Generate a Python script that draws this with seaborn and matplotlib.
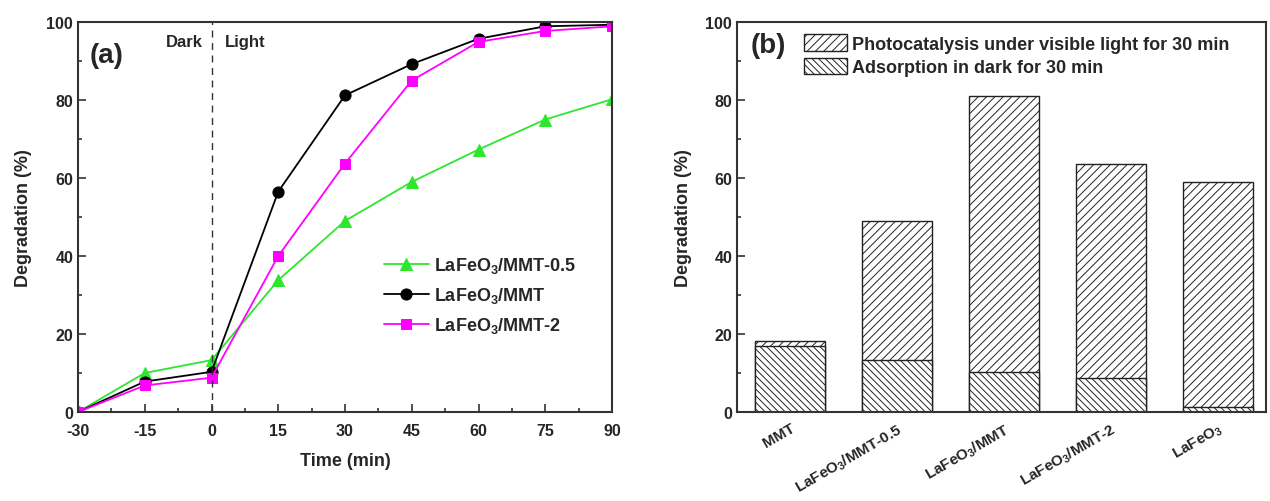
import matplotlib
matplotlib.use("Agg")
import matplotlib.pyplot as plt
import seaborn as sns
import pandas as pd
from matplotlib.patches import Patch
from matplotlib.ticker import MultipleLocator

# ---------------- data ----------------
time_min = [-30, -15, 0, 15, 30, 45, 60, 75, 90]
mmt05 = [0, 10.0, 13.3, 33.8, 49.0, 59.0, 67.3, 75.0, 80.2]
mmt1 = [0, 7.8, 10.3, 56.5, 81.2, 89.2, 95.7, 98.9, 99.3]
mmt2 = [0, 6.8, 8.8, 40.0, 63.7, 85.0, 94.9, 97.7, 98.9]
series_labels = ["LaFeO$_3$/MMT-0.5", "LaFeO$_3$/MMT", "LaFeO$_3$/MMT-2"]

bar_categories = ["MMT", "LaFeO$_3$/MMT-0.5", "LaFeO$_3$/MMT", "LaFeO$_3$/MMT-2", "LaFeO$_3$"]
dark_adsorption = [16.8, 13.3, 10.3, 8.8, 1.2]
total_degradation = [18.1, 48.9, 81.1, 63.6, 59.0]
legend_labels = ["Photocatalysis under visible light for 30 min", "Adsorption in dark for 30 min"]

# ---------------- style ----------------
sns.set_style("ticks")
plt.rcParams["font.family"] = ["Liberation Sans", "DejaVu Sans"]
plt.rcParams["font.weight"] = "bold"
plt.rcParams["axes.labelweight"] = "bold"
plt.rcParams["axes.unicode_minus"] = False
plt.rcParams["mathtext.fontset"] = "custom"
plt.rcParams["mathtext.rm"] = "Liberation Sans:bold"
plt.rcParams["mathtext.bf"] = "Liberation Sans:bold"
plt.rcParams["mathtext.it"] = "Liberation Sans:bold"
plt.rcParams["mathtext.default"] = "bf"
plt.rcParams["hatch.linewidth"] = 0.7
plt.rcParams["hatch.color"] = "#333333"

W, H = 1270, 502
fig = plt.figure(figsize=(W / 100, H / 100), dpi=100)
ax1 = fig.add_axes([78 / W, 1 - 413 / H, 534 / W, 390 / H])
ax2 = fig.add_axes([737 / W, 1 - 413 / H, 529 / W, 390 / H])

spine_col = "#333333"
for ax in (ax1, ax2):
    for s in ax.spines.values():
        s.set_visible(True)
        s.set_linewidth(1.5)
        s.set_color(spine_col)
    ax.tick_params(which="both", direction="in", color=spine_col, labelsize=11.5, width=1.2)
    ax.tick_params(which="major", length=6)
    ax.tick_params(which="minor", length=3)

# ---------------- panel (a) ----------------
df = pd.DataFrame({"time": time_min, "a": mmt05, "b": mmt1, "c": mmt2})
sns.lineplot(data=df, x="time", y="a", ax=ax1, color="#2ee62e", marker="^",
             markersize=8, markeredgecolor="#2ee62e", linewidth=1.3, label=series_labels[0])
sns.lineplot(data=df, x="time", y="b", ax=ax1, color="black", marker="o",
             markersize=8, markeredgecolor="black", linewidth=1.3, label=series_labels[1])
sns.lineplot(data=df, x="time", y="c", ax=ax1, color="#ff00ff", marker="s",
             markersize=7, markeredgecolor="#ff00ff", linewidth=1.3, label=series_labels[2])
ax1.axvline(0, color="#333333", linestyle=(0, (5, 4)), linewidth=1.0)
ax1.set_xlim(-30, 90)
ax1.set_ylim(0, 100)
ax1.xaxis.set_major_locator(MultipleLocator(15))
ax1.xaxis.set_minor_locator(MultipleLocator(7.5))
ax1.yaxis.set_major_locator(MultipleLocator(20))
ax1.yaxis.set_minor_locator(MultipleLocator(10))
ax1.tick_params(axis="x", pad=8)
ax1.set_xlabel("Time (min)", fontsize=13, fontweight="bold", labelpad=10)
ax1.set_ylabel("Degradation (%)", fontsize=13, fontweight="bold", labelpad=10)
ax1.text(0.022, 0.95, "(a)", transform=ax1.transAxes, fontsize=20, fontweight="bold", va="top")
ax1.text(-2.0, 95, "Dark", fontsize=12, fontweight="bold", ha="right", va="center")
ax1.text(3.0, 95, "Light", fontsize=12, fontweight="bold", ha="left", va="center")
ax1.legend(loc="center left", bbox_to_anchor=(0.542, 0.30), frameon=False,
           handlelength=2.5, handletextpad=0.3, labelspacing=0.55,
           prop={"weight": "bold", "size": 13})
for lab in ax1.get_xticklabels() + ax1.get_yticklabels():
    lab.set_fontweight("bold")

# ---------------- panel (b) ----------------
up_hatch = "////"
low_hatch = "\\\\\\\\\\"
dfb = pd.DataFrame({"cat": bar_categories, "total": total_degradation, "dark": dark_adsorption})
sns.barplot(data=dfb, x="cat", y="total", ax=ax2, color="white", saturation=1,
            edgecolor="#222222", linewidth=1.0, width=0.655, hatch=up_hatch, errorbar=None)
sns.barplot(data=dfb, x="cat", y="dark", ax=ax2, color="white", saturation=1,
            edgecolor="#222222", linewidth=1.0, width=0.655, hatch=low_hatch, errorbar=None)
ax2.set_xlim(-0.495, 4.45)
ax2.set_ylim(0, 100)
ax2.yaxis.set_major_locator(MultipleLocator(20))
ax2.yaxis.set_minor_locator(MultipleLocator(10))
ax2.set_xlabel("")
ax2.set_ylabel("Degradation (%)", fontsize=13, fontweight="bold", labelpad=10)
ax2.tick_params(axis="x", which="major", length=5, pad=6)
ax2.set_xticks(range(len(bar_categories)))
ax2.set_xticklabels(bar_categories, rotation=30, ha="right", rotation_mode="anchor",
                    fontsize=11, fontweight="bold")
for lab in ax2.get_yticklabels():
    lab.set_fontweight("bold")
ax2.text(0.025, 0.975, "(b)", transform=ax2.transAxes, fontsize=20, fontweight="bold", va="top")
handles = [Patch(facecolor="white", edgecolor="#222222", hatch=up_hatch, linewidth=1.0),
           Patch(facecolor="white", edgecolor="#222222", hatch=low_hatch, linewidth=1.0)]
ax2.legend(handles, legend_labels, loc="upper left", bbox_to_anchor=(0.095, 1.01), frameon=False,
           handlelength=2.4, handleheight=1.0, handletextpad=0.3, labelspacing=0.3,
           prop={"weight": "bold", "size": 13})

fig.savefig("out.png", dpi=100)
